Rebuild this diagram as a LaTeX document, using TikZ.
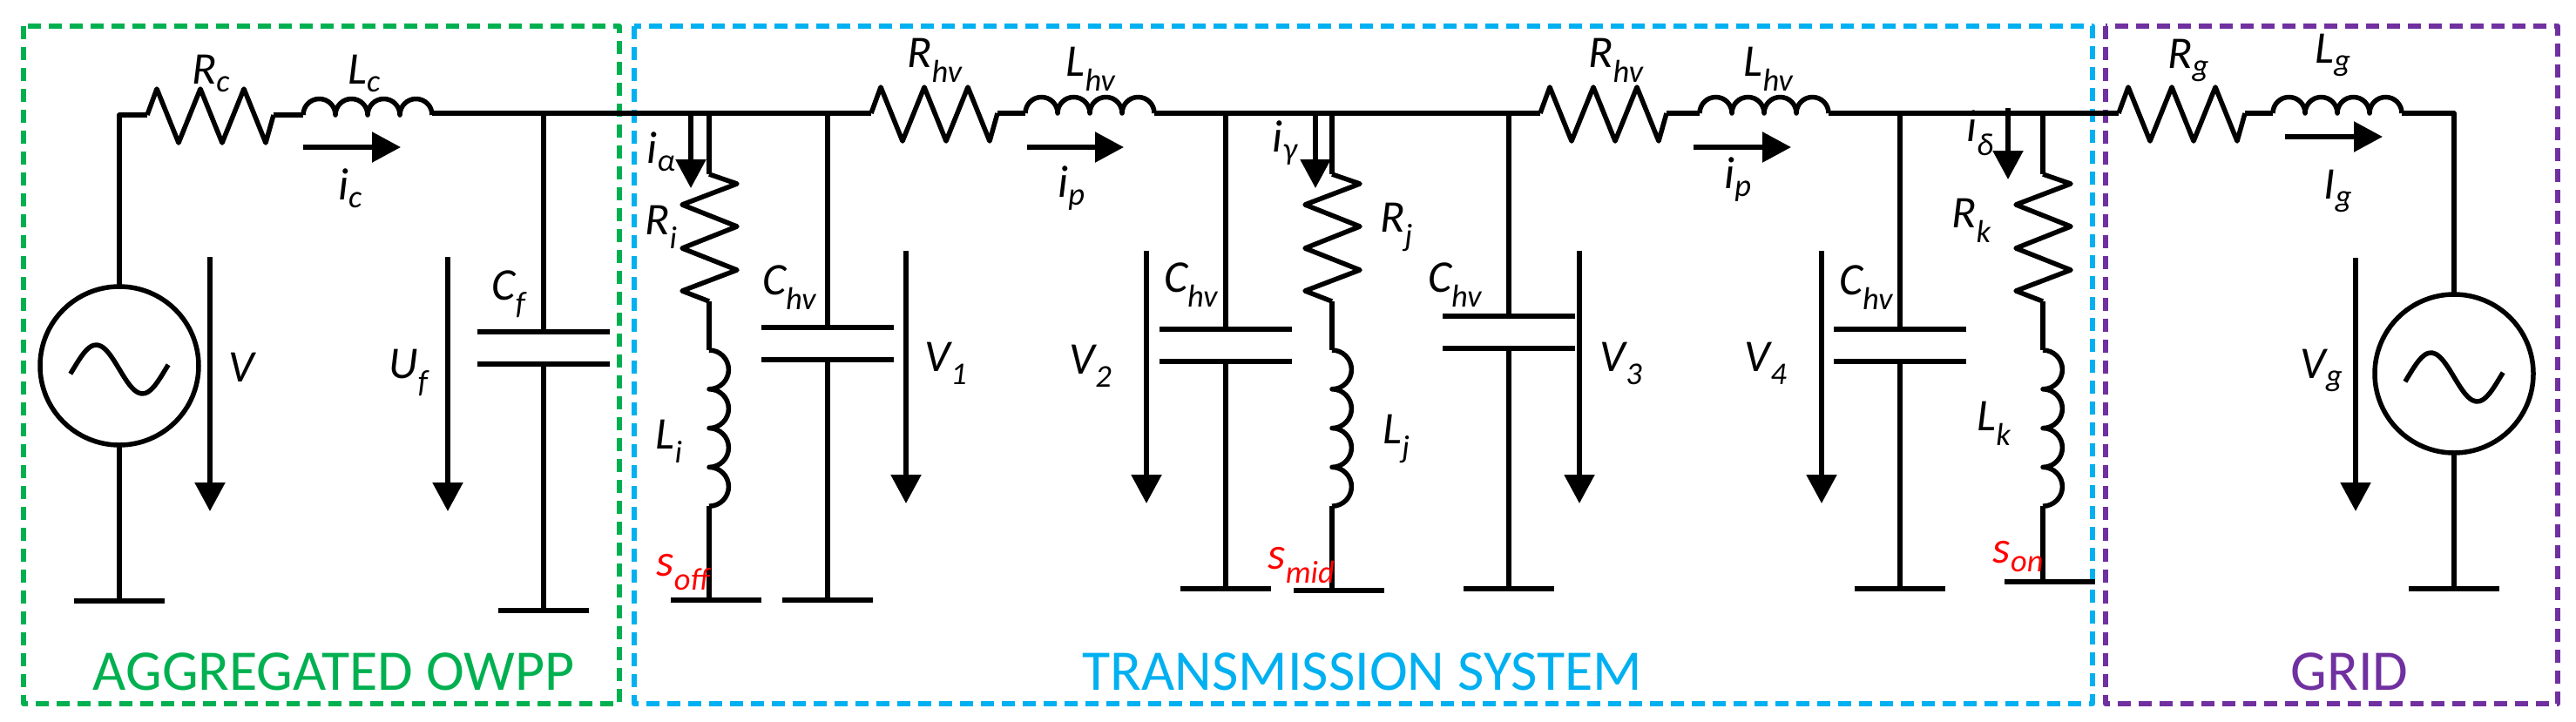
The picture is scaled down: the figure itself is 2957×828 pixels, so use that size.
\documentclass[tikz,border=0pt]{standalone}
\usepackage{fontspec}
\setmainfont{Carlito}
\usetikzlibrary{arrows.meta}
\definecolor{cgreen}{RGB}{0,176,80}
\definecolor{cblue}{RGB}{0,176,240}
\definecolor{cpurple}{RGB}{112,48,160}
\begin{document}
\begin{tikzpicture}[x=1pt,y=-1pt,line width=5.5pt,line join=round,
  lbl/.style={font=\fontsize{52}{62}\selectfont\itshape,inner sep=0pt},
  red lbl/.style={lbl,text=red},
  title/.style={font=\fontsize{66}{78}\selectfont,inner sep=0pt},
  box/.style={line width=6pt,dash pattern=on 15pt off 9pt},
  arr/.style={-{Triangle[width=34pt,length=33pt]}},
  hres/.pic={\draw (0,0)--(11,-30)--(36,32)--(61,-30)--(86,32)--(111,-30)--(136,32)--(145,0);},
  hind/.pic={\draw (0,0) arc (180:360:18.5) arc (180:360:18.5) arc (180:360:18.5) arc (180:360:18.5);},
  vres/.pic={\draw (0,0)--(32,11)--(-31,35)--(32,60)--(-31,85)--(32,110)--(-31,134)--(0,146);},
  vind/.pic={\draw (0,0) arc (270:450:22.4) arc (270:450:22.4) arc (270:450:22.4) arc (270:450:22.4);},
  gnd/.pic={\draw (-52,0)--(52,0);},
  cap/.pic={\draw (-76,0)--(76,0) (-76,37)--(76,37);},
  src/.pic={\draw (0,0) circle (91);
    \draw plot[domain=-0.03:1.03,smooth,samples=30] ({-53+106*\x},{-28*sin(360*\x)+4});}
]
\useasboundingbox (0,0) rectangle (2957,828);
% boxes
\draw[box,cgreen] (27,30) rectangle (711,808);
\draw[box,cblue] (728,30) rectangle (2402,808);
\draw[box,cpurple] (2417,30) rectangle (2936,808);
\node[title,text=cgreen] (t1) at (383,771) {AGGREGATED OWPP};
\node[title,text=cblue] (t2) at (1564,771) {TRANSMISSION SYSTEM};
\node[title,text=cpurple] (t3) at (2697,771) {GRID};

% left source
\coordinate (s1) at (137,420);
\pic at (s1) {src};
\coordinate (rc) at (169,132);
\draw (137,329) |- (rc);
\pic at (rc) {hres};
\coordinate (lc) at (348,132);
\draw (314,132) -- (lc);
\pic at (lc) {hind};
\draw (137,511) -- (137,690);
\pic at (137,690) {gnd};
% main wire
\coordinate (n1) at (496,130);
\coordinate (n2) at (1000,130);
\draw (n1) -- (n2);
\pic at (n2) {hres};
\draw (1145,130) -- (1177,130);
\pic at (1177,130) {hind};
\coordinate (n3) at (1325,130);
\coordinate (n4) at (1768,130);
\draw (n3) -- (n4);
\pic at (n4) {hres};
\draw (1913,130) -- (1951,130);
\pic at (1951,130) {hind};
\coordinate (n5) at (2099,130);
\coordinate (n6) at (2432,130);
\draw (n5) -- (n6);
\pic at (n6) {hres};
\draw (2577,130) -- (2609,130);
\pic at (2609,130) {hind};
\coordinate (g2) at (2817,429);
\draw (2757,130) -| (2817,338);
\pic at (g2) {src};
\draw (2817,520) -- (2817,676);
\pic at (2817,676) {gnd};

% capacitors
\foreach \x/\p/\g in {624/381/701, 950/376/689, 1407/378/676, 1732/363/676, 2181/378/676}{
  \draw (\x,130) -- (\x,\p);
  \pic at (\x,\p) {cap};
  \draw (\x,\p+37) -- (\x,\g);
  \pic at (\x,\g) {gnd};
}
% shunt branches
\foreach \x/\g in {814/689, 1529/678, 2345/668}{
  \draw (\x,130) -- (\x,200);
  \pic at (\x,200) {vres};
  \draw (\x,346) -- (\x,402);
  \pic at (\x,402) {vind};
  \draw (\x,581) -- (\x,\g);
  \pic at (\x+8,\g) {gnd};
}

% arrows
\draw[arr] (348,169) -- (460,169);
\draw[arr] (1179,169) -- (1290,169);
\draw[arr] (1944,169) -- (2056,169);
\draw[arr] (2623,157) -- (2735,157);
\draw[arr] (793,132) -- (793,216);
\draw[arr] (1510,132) -- (1510,216);
\draw[arr] (2305,124) -- (2305,206);
\draw[arr] (241,295) -- (241,587);
\draw[arr] (514,295) -- (514,587);
\draw[arr] (1040,288) -- (1040,578);
\draw[arr] (1316,288) -- (1316,578);
\draw[arr] (1813,288) -- (1813,578);
\draw[arr] (2091,288) -- (2091,578);
\draw[arr] (2704,296) -- (2704,587);

% labels
\node[lbl] (lRc) at (242,84) {R\textsubscript{c}};
\node[lbl] (lLc) at (418,84) {L\textsubscript{c}};
\node[lbl] (lic) at (402,216) {i\textsubscript{c}};
\node[lbl] (lV) at (277,422) {V};
\node[lbl] (lUf) at (469,428) {U\textsubscript{f}};
\node[lbl] (lCf) at (584,338) {C\textsubscript{f}};
\node[lbl] (lia) at (759,174) {i\textsubscript{α}};
\node[lbl] (lRi) at (759,261) {R\textsubscript{i}};
\node[lbl] (lLi) at (768,507) {L\textsubscript{i}};
\node[red lbl] (lso) at (784,657) {s\textsubscript{off}};
\node[lbl] (lC1) at (906,330) {C\textsubscript{hv}};
\node[lbl] (lV1) at (1086,417) {V\textsubscript{1}};
\node[lbl] (lR1) at (1073,69) {R\textsubscript{hv}};
\node[lbl] (lL1) at (1252,79) {L\textsubscript{hv}};
\node[lbl] (lip1) at (1230,216) {i\textsubscript{p}};
\node[lbl] (lV2) at (1252,420) {V\textsubscript{2}};
\node[lbl] (lC2) at (1367,327) {C\textsubscript{hv}};
\node[lbl] (lig) at (1475,164) {i\textsubscript{γ}};
\node[lbl] (lRj) at (1603,261) {R\textsubscript{j}};
\node[lbl] (lLj) at (1603,504) {L\textsubscript{j}};
\node[red lbl] (lsm) at (1494,649) {s\textsubscript{mid}};
\node[lbl] (lC3) at (1670,327) {C\textsubscript{hv}};
\node[lbl] (lV3) at (1861,417) {V\textsubscript{3}};
\node[lbl] (lR2) at (1855,69) {R\textsubscript{hv}};
\node[lbl] (lL2) at (2030,79) {L\textsubscript{hv}};
\node[lbl] (lip2) at (1995,206) {i\textsubscript{p}};
\node[lbl] (lV4) at (2027,417) {V\textsubscript{4}};
\node[lbl] (lC4) at (2142,330) {C\textsubscript{hv}};
\node[lbl] (lid) at (2273,153) {i\textsubscript{δ}};
\node[lbl] (lRk) at (2263,253) {R\textsubscript{k}};
\node[lbl] (lLk) at (2289,486) {L\textsubscript{k}};
\node[red lbl] (lson) at (2317,639) {s\textsubscript{on}};
\node[lbl] (lRg) at (2512,69) {R\textsubscript{g}};
\node[lbl] (lLg) at (2678,63) {L\textsubscript{g}};
\node[lbl] (lIg) at (2684,219) {I\textsubscript{g}};
\node[lbl] (lVg) at (2665,425) {V\textsubscript{g}};
\end{tikzpicture}
\end{document}
